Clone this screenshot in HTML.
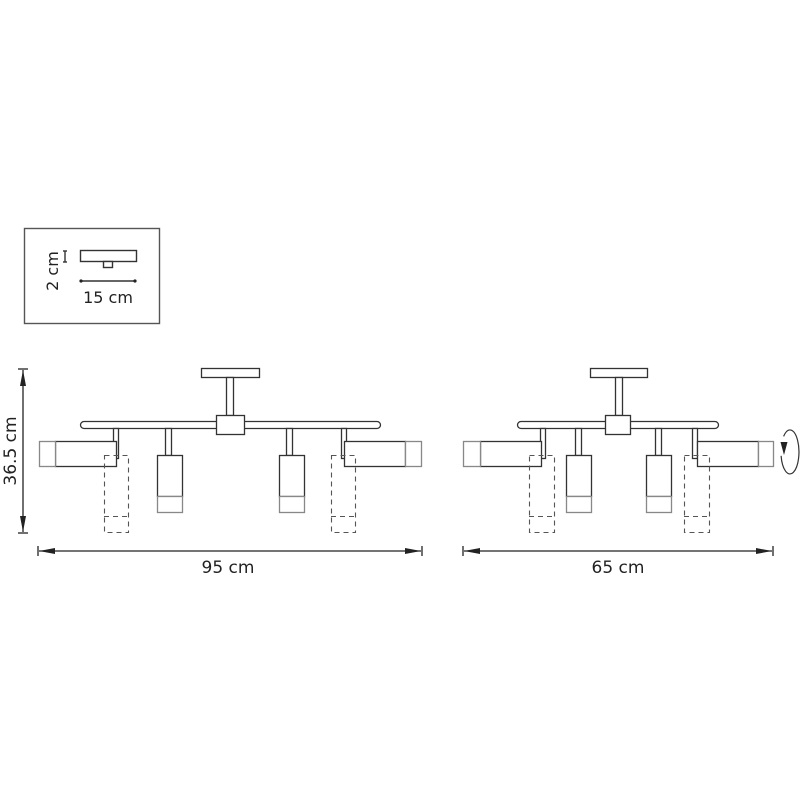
<!DOCTYPE html>
<html><head><meta charset="utf-8"><style>
html,body{margin:0;padding:0;background:#fff;}
svg{display:block;}
text{font-family:"DejaVu Sans","Liberation Sans",sans-serif;fill:#222;}
</style></head><body>
<svg width="800" height="800" viewBox="0 0 800 800" xmlns="http://www.w3.org/2000/svg">
<defs>
<marker id="ah" markerWidth="16" markerHeight="8" refX="16" refY="4" orient="auto-start-reverse" markerUnits="userSpaceOnUse">
<path d="M0,1 L16,4 L0,7 Z" fill="#222"/></marker>
</defs>
<g stroke="#333" stroke-width="1.4" fill="#fff">
<rect x="24.5" y="228.5" width="135" height="95" fill="none" stroke="#555"/>
<rect x="80.5" y="250.5" width="56" height="11"/>
<rect x="103.5" y="261.5" width="9" height="6"/>
<line x1="80" y1="281" x2="135" y2="281"/>
<line x1="65" y1="251" x2="65" y2="262"/>
<line x1="63" y1="251" x2="67" y2="251"/><line x1="63" y1="262" x2="67" y2="262"/>
</g>
<circle cx="81" cy="281" r="1.6" fill="#222"/><circle cx="135" cy="281" r="1.6" fill="#222"/>
<text x="108" y="303" font-size="16" text-anchor="middle">15 cm</text>
<text transform="translate(58,271) rotate(-90)" font-size="16" text-anchor="middle">2 cm</text>

<!-- LEFT lamp -->
<g stroke="#333" stroke-width="1.3" fill="#fff">
<rect x="201.5" y="368.5" width="58" height="9"/>
<rect x="226.5" y="377.5" width="7" height="38"/>
<rect x="80.5" y="421.5" width="300" height="7" rx="3.5"/>
<rect x="216.5" y="415.5" width="28" height="19"/>
<rect x="113.5" y="428.5" width="5" height="30"/>
<rect x="55.5" y="441.5" width="61" height="25"/>
<rect x="39.5" y="441.5" width="16" height="25" stroke="#888"/>
<rect x="165.5" y="428.5" width="6" height="27"/>
<rect x="157.5" y="455.5" width="25" height="41"/>
<rect x="157.5" y="496.5" width="25" height="16" stroke="#888"/>
<rect x="286.5" y="428.5" width="6" height="27"/>
<rect x="279.5" y="455.5" width="25" height="41"/>
<rect x="279.5" y="496.5" width="25" height="16" stroke="#888"/>
<rect x="341.5" y="428.5" width="5" height="30"/>
<rect x="344.5" y="441.5" width="61" height="25"/>
<rect x="405.5" y="441.5" width="16" height="25" stroke="#888"/>
</g>
<g stroke="#555" stroke-width="1.1" fill="none" stroke-dasharray="5,4">
<rect x="104.5" y="455.5" width="24" height="77"/><line x1="104" y1="516.5" x2="128" y2="516.5"/>
<rect x="331.5" y="455.5" width="24" height="77"/><line x1="331" y1="516.5" x2="355" y2="516.5"/>
</g>
<g stroke="#222" stroke-width="1.3">
<line x1="23" y1="370" x2="23" y2="532" marker-start="url(#ah)" marker-end="url(#ah)"/>
<line x1="18" y1="369" x2="28" y2="369"/><line x1="18" y1="533" x2="28" y2="533"/>
<line x1="39" y1="551" x2="421" y2="551" marker-start="url(#ah)" marker-end="url(#ah)"/>
<line x1="38" y1="546" x2="38" y2="556"/><line x1="422" y1="546" x2="422" y2="556"/>
</g>
<text x="228" y="573" font-size="17" text-anchor="middle">95 cm</text>
<text transform="translate(16,451) rotate(-90)" font-size="17" text-anchor="middle">36.5 cm</text>

<!-- RIGHT lamp -->
<g stroke="#333" stroke-width="1.3" fill="#fff">
<rect x="590.5" y="368.5" width="57" height="9"/>
<rect x="615.5" y="377.5" width="7" height="38"/>
<rect x="517.5" y="421.5" width="201" height="7" rx="3.5"/>
<rect x="605.5" y="415.5" width="25" height="19"/>
<rect x="540.5" y="428.5" width="5" height="30"/>
<rect x="480.5" y="441.5" width="61" height="25"/>
<rect x="463.5" y="441.5" width="17" height="25" stroke="#888"/>
<rect x="575.5" y="428.5" width="6" height="27"/>
<rect x="566.5" y="455.5" width="25" height="41"/>
<rect x="566.5" y="496.5" width="25" height="16" stroke="#888"/>
<rect x="655.5" y="428.5" width="6" height="27"/>
<rect x="646.5" y="455.5" width="25" height="41"/>
<rect x="646.5" y="496.5" width="25" height="16" stroke="#888"/>
<rect x="692.5" y="428.5" width="5" height="30"/>
<rect x="697.5" y="441.5" width="61" height="25"/>
<rect x="758.5" y="441.5" width="15" height="25" stroke="#888"/>
</g>
<g stroke="#555" stroke-width="1.1" fill="none" stroke-dasharray="5,4">
<rect x="529.5" y="455.5" width="25" height="77"/><line x1="529" y1="516.5" x2="554" y2="516.5"/>
<rect x="684.5" y="455.5" width="25" height="77"/><line x1="684" y1="516.5" x2="709" y2="516.5"/>
</g>
<g stroke="#222" stroke-width="1.3">
<line x1="464" y1="551" x2="772" y2="551" marker-start="url(#ah)" marker-end="url(#ah)"/>
<line x1="463" y1="546" x2="463" y2="556"/><line x1="773" y1="546" x2="773" y2="556"/>
</g>
<text x="618" y="573" font-size="17" text-anchor="middle">65 cm</text>
<path d="M783.6,436.4 A9,22 0 1 1 781.1,455.8" fill="none" stroke="#333" stroke-width="1.2"/>
<path d="M780.5,442 L787.5,442 L784,455 Z" fill="#222"/>
</svg>
</body></html>
